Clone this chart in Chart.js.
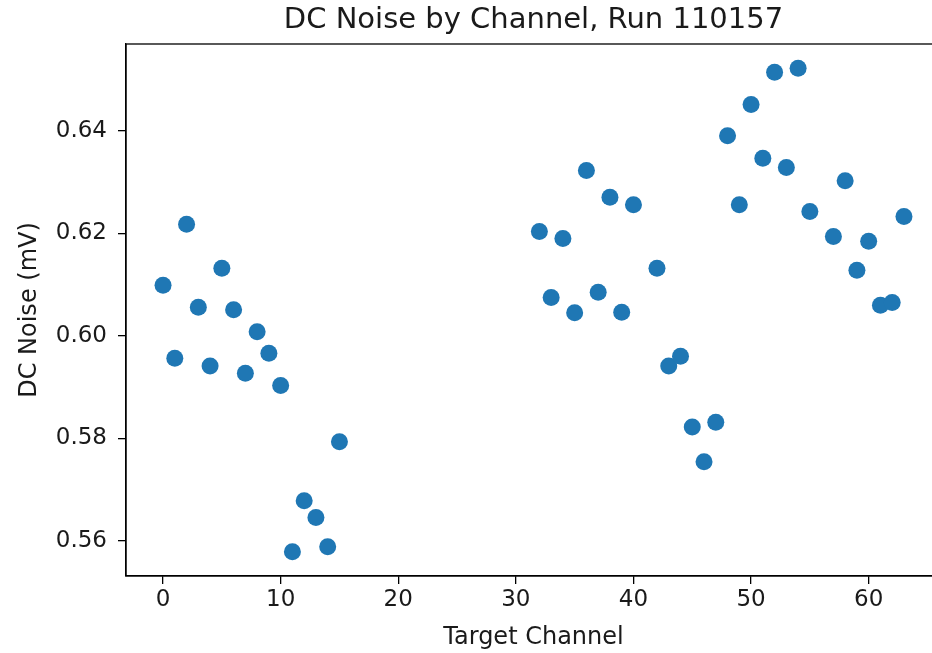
<!DOCTYPE html>
<html>
<head>
<meta charset="utf-8">
<script src="https://cdn.jsdelivr.net/npm/chart.js@4.4.1/dist/chart.umd.min.js"></script>
<style>
  html, body { margin: 0; padding: 0; background: #fff; overflow: hidden; width: 932px; height: 653px; }
  canvas { display: block; }
</style>
</head>
<body>
<canvas id="c" width="960" height="653"></canvas>
<script>
// Target channels that reported a measurement
const channels = [
  0, 1, 2, 3, 4, 5, 6, 7, 8, 9, 10, 11, 12, 13, 14, 15,
  32, 33, 34, 35, 36, 37, 38, 39, 40, 42, 43, 44, 45, 46, 47,
  48, 49, 50, 51, 52, 53, 54, 55, 57, 58, 59, 60, 61, 62, 63
];
// DC noise per channel (mV)
const dcNoise = [
  0.6099, 0.5956, 0.6218, 0.6056, 0.5941, 0.6132, 0.6051, 0.5927,
  0.6008, 0.5966, 0.5903, 0.5578, 0.5678, 0.5645, 0.5588, 0.5793,
  0.6204, 0.6075, 0.6190, 0.6045, 0.6323, 0.6085, 0.6271, 0.6046,
  0.6256, 0.6132, 0.5941, 0.5960, 0.5822, 0.5754, 0.5831,
  0.6391, 0.6256, 0.6452, 0.6347, 0.6515, 0.6329, 0.6523, 0.6243,
  0.6194, 0.6303, 0.6128, 0.6185, 0.6060, 0.6065, 0.6233
];
const xTicks = [0, 10, 20, 30, 40, 50, 60];
const yTicks = [0.56, 0.58, 0.60, 0.62, 0.64];

// 5% padding around the data range on both axes
function padded(values) {
  const lo = Math.min(...values), hi = Math.max(...values);
  const m = (hi - lo) * 0.05;
  return [lo - m, hi + m];
}
const [xMin, xMax] = padded(channels);
const [yMin, yMax] = padded(dcNoise);

const FONT = "'DejaVu Sans', sans-serif";
const INK = '#1a1a1a';

// Closed box around the plotting area
const frame = {
  id: 'frame',
  afterDatasetsDraw(chart) {
    const { ctx, chartArea: a } = chart;
    ctx.save();
    ctx.strokeStyle = '#000';
    ctx.lineWidth = 1.3;
    ctx.strokeRect(a.left, a.top, a.right - a.left, a.bottom - a.top);
    ctx.restore();
  }
};

new Chart(document.getElementById('c'), {
  type: 'scatter',
  data: {
    datasets: [{
      data: channels.map((ch, i) => ({ x: ch, y: dcNoise[i] })),
      backgroundColor: '#1f77b4',
      borderWidth: 0,
      pointRadius: 8.5,
      pointHoverRadius: 8.5
    }]
  },
  options: {
    responsive: false,
    animation: false,
    devicePixelRatio: 1,
    layout: { padding: { left: 0, right: 19, top: 0, bottom: 0 } },
    plugins: {
      legend: { display: false },
      tooltip: { enabled: false },
      title: {
        display: true,
        text: 'DC Noise by Channel, Run 110157',
        fullSize: false,
        color: INK,
        font: { family: FONT, size: 29, weight: 'normal', lineHeight: 1.2 },
        padding: { top: 3, bottom: 6.2 }
      }
    },
    scales: {
      x: {
        type: 'linear',
        min: xMin,
        max: xMax,
        afterBuildTicks: s => { s.ticks = xTicks.map(v => ({ value: v })); },
        afterFit: s => { s.height = 77; },
        grid: { drawOnChartArea: false, drawTicks: true, tickLength: 8, color: '#000', lineWidth: 1.3 },
        border: { display: true, color: '#000', width: 1.3 },
        ticks: {
          color: INK,
          font: { family: FONT, size: 23 },
          padding: 2,
          maxRotation: 0,
          callback: v => String(v)
        },
        title: {
          display: true,
          text: 'Target Channel',
          color: INK,
          font: { family: FONT, size: 24 },
          padding: { top: 0, bottom: 1 }
        }
      },
      y: {
        type: 'linear',
        min: yMin,
        max: yMax,
        afterBuildTicks: s => { s.ticks = yTicks.map(v => ({ value: v })); },
        afterFit: s => { s.width = 126; },
        grid: { drawOnChartArea: false, drawTicks: true, tickLength: 8, color: '#000', lineWidth: 1.3 },
        border: { display: true, color: '#000', width: 1.3 },
        ticks: {
          color: INK,
          font: { family: FONT, size: 23 },
          padding: 11,
          callback: v => v.toFixed(2)
        },
        title: {
          display: true,
          text: 'DC Noise (mV)',
          color: INK,
          font: { family: FONT, size: 24 },
          padding: { top: 15, bottom: 0 }
        }
      }
    }
  },
  plugins: [frame]
});
</script>
</body>
</html>
